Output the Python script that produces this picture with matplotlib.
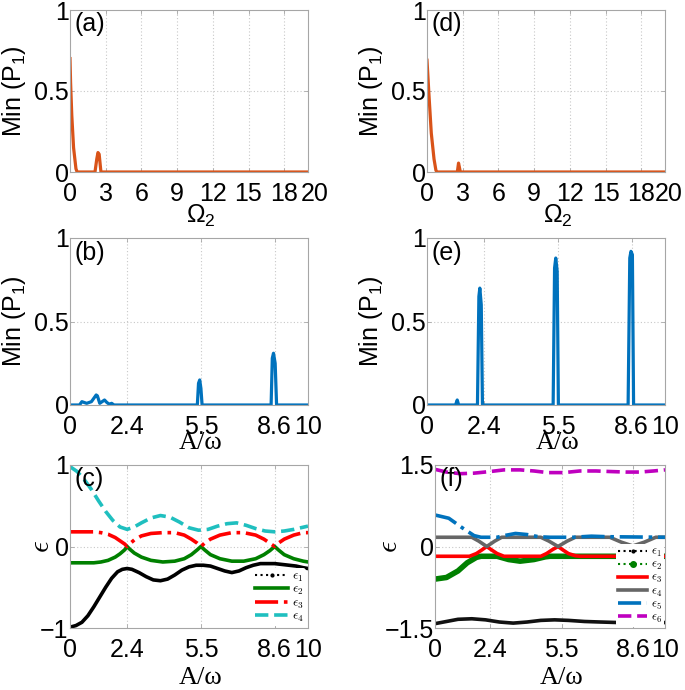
import matplotlib
matplotlib.use('Agg')
import matplotlib.pyplot as plt
from matplotlib.lines import Line2D
from matplotlib.font_manager import FontProperties
from matplotlib.transforms import ScaledTranslation

plt.rcParams['font.family'] = ['Liberation Sans', 'DejaVu Sans']
plt.rcParams['mathtext.fontset'] = 'custom'
plt.rcParams['mathtext.rm'] = 'Liberation Sans'
plt.rcParams['mathtext.it'] = 'Liberation Sans:italic'
plt.rcParams['mathtext.bf'] = 'Liberation Sans:bold'

# ---------------- data ----------------
# (a)
omega_a = [0, 0.05, 0.15, 0.3, 0.5, 0.6, 2.1, 2.25, 2.35, 2.45, 2.6, 20]
p_a = [0.70, 0.55, 0.35, 0.15, 0.02, 0.0, 0.0, 0.08, 0.12, 0.11, 0.0, 0.0]
# (d)
omega_d = [0, 0.17, 0.36, 0.59, 0.75, 0.85, 2.55, 2.65, 2.72, 2.8, 20]
p_d = [0.69, 0.47, 0.24, 0.08, 0.01, 0.0, 0.0, 0.055, 0.03, 0.0, 0.0]
# (b)
A_b = [0, 0.4, 0.5, 0.6, 0.7, 0.9, 1.0, 1.1, 1.15, 1.25, 1.35, 1.45, 1.55, 1.65,
       1.75, 1.85, 5.35, 5.4, 5.45, 5.5, 5.55, 8.45, 8.5, 8.55, 8.62, 8.68, 10]
p_b = [0, 0, 0.02, 0.015, 0.01, 0.02, 0.04, 0.06, 0.055, 0.01, 0.02, 0.03, 0.015, 0.005,
       0.01, 0, 0, 0.13, 0.15, 0.1, 0, 0, 0.28, 0.31, 0.25, 0, 0]
# (e)
A_e = [0, 1.2, 1.27, 1.33, 2.12, 2.18, 2.22, 2.28, 2.33, 5.3, 5.36, 5.41, 5.47, 5.52,
       8.45, 8.52, 8.57, 8.63, 8.68, 10]
p_e = [0, 0, 0.03, 0, 0, 0.65, 0.70, 0.6, 0, 0, 0.82, 0.88, 0.8, 0,
       0, 0.88, 0.92, 0.9, 0, 0]
# (c)
A_c1 = [0, 0.25, 0.5, 0.75, 1.0, 1.25, 1.5, 1.75, 2.0, 2.2, 2.4, 2.6, 2.9, 3.2, 3.5,
        3.8, 4.1, 4.4, 4.7, 5.0, 5.3, 5.6, 5.9, 6.2, 6.5, 6.8, 7.1, 7.4, 7.7, 8.0,
        8.3, 8.6, 8.9, 9.2, 9.5, 9.8, 10]
eps1_c = [-0.99, -0.97, -0.93, -0.85, -0.74, -0.62, -0.50, -0.39, -0.31, -0.28,
          -0.27, -0.28, -0.32, -0.37, -0.41, -0.42, -0.40, -0.35, -0.29, -0.25,
          -0.23, -0.23, -0.24, -0.27, -0.30, -0.32, -0.30, -0.26, -0.23, -0.21,
          -0.21, -0.21, -0.22, -0.23, -0.24, -0.26, -0.27]
A_c23 = [0, 0.5, 1.0, 1.3, 1.6, 1.9, 2.1, 2.3, 2.4, 2.5, 2.7, 3.0, 3.4, 3.9, 4.4,
         4.8, 5.1, 5.35, 5.5, 5.65, 5.9, 6.3, 6.8, 7.3, 7.8, 8.15, 8.4, 8.6, 8.75,
         9.0, 9.4, 9.8, 10]
eps2_c = [-0.20, -0.20, -0.20, -0.19, -0.17, -0.13, -0.09, -0.04, 0.0, -0.03,
          -0.08, -0.13, -0.17, -0.19, -0.18, -0.15, -0.10, -0.04, 0.0, -0.04,
          -0.10, -0.15, -0.18, -0.18, -0.15, -0.10, -0.05, 0.0, -0.04, -0.10,
          -0.15, -0.18, -0.19]
eps3_c = [0.18, 0.18, 0.18, 0.17, 0.15, 0.11, 0.07, 0.03, 0.0, 0.03,
          0.08, 0.13, 0.16, 0.17, 0.17, 0.14, 0.09, 0.04, 0.0, 0.04,
          0.09, 0.14, 0.17, 0.17, 0.14, 0.09, 0.04, 0.0, 0.04, 0.09,
          0.14, 0.17, 0.17]
A_c4 = [0, 0.3, 0.6, 0.9, 1.2, 1.5, 1.8, 2.1, 2.4, 2.7, 3.0, 3.4, 3.8, 4.2, 4.6,
        5.0, 5.4, 5.8, 6.2, 6.6, 7.0, 7.4, 7.8, 8.2, 8.6, 9.0, 9.4, 9.7, 10]
eps4_c = [0.98, 0.92, 0.82, 0.70, 0.56, 0.43, 0.32, 0.24, 0.21, 0.24, 0.29, 0.35,
          0.38, 0.36, 0.30, 0.23, 0.20, 0.21, 0.25, 0.28, 0.29, 0.26, 0.22, 0.19,
          0.18, 0.19, 0.21, 0.23, 0.25]
# (f)
A_f1 = [0, 0.5, 1.0, 1.6, 2.2, 2.8, 3.4, 4.0, 4.6, 5.2, 5.8, 6.5, 7.2, 8.0, 9.0, 10]
eps1_f = [-1.42, -1.38, -1.34, -1.33, -1.35, -1.39, -1.41, -1.39, -1.36, -1.35,
          -1.36, -1.38, -1.39, -1.40, -1.39, -1.40]
A_f2 = [0, 0.5, 1.0, 1.4, 1.8, 2.0, 2.7, 3.2, 3.7, 4.3, 4.8, 5.0, 10]
eps2_f = [-0.60, -0.57, -0.45, -0.30, -0.20, -0.18, -0.18, -0.24, -0.27, -0.24,
          -0.19, -0.18, -0.18]
A_f3 = [0, 1.5, 1.8, 2.05, 2.25, 2.45, 2.7, 3.0, 4.6, 4.85, 5.1, 5.35, 5.55, 5.8,
        6.1, 6.3, 10]
eps3_f = [-0.18, -0.18, -0.13, -0.06, 0.0, -0.06, -0.13, -0.18, -0.18, -0.13,
          -0.06, 0.0, -0.06, -0.13, -0.17, -0.18, -0.18]
A_f4 = [0, 1.6, 1.9, 2.25, 2.6, 2.9, 4.6, 4.95, 5.35, 5.75, 6.1, 7.6, 8.1, 8.6,
        9.1, 9.6, 10]
eps4_f = [0.17, 0.17, 0.10, 0.0, 0.10, 0.17, 0.17, 0.10, 0.0, 0.10, 0.17, 0.17,
          0.08, 0.01, 0.08, 0.17, 0.17]
A_f5 = [0, 0.6, 1.2, 1.7, 2.0, 2.7, 3.0, 3.5, 4.0, 4.5, 5.0, 6.0, 6.8, 7.5, 10]
eps5_f = [0.58, 0.52, 0.34, 0.20, 0.17, 0.17, 0.20, 0.24, 0.22, 0.18, 0.17, 0.17,
          0.19, 0.18, 0.17]
A_f6 = [0, 0.5, 1.1, 1.7, 2.4, 3.0, 3.7, 4.3, 4.9, 5.6, 6.3, 7.0, 7.6, 8.3, 8.9,
        9.5, 10]
eps6_f = [1.42, 1.37, 1.34, 1.35, 1.38, 1.41, 1.41, 1.39, 1.36, 1.36, 1.39, 1.39,
          1.38, 1.37, 1.37, 1.39, 1.41]

xt_A = [0, 2.4, 5.5, 8.6, 10]
xt_A_labels = ['0', '2.4', '5.5', '8.6', '10']
xt_O = [0, 3, 6, 9, 12, 15, 18, 20]
xt_O_labels = ['0', '3', '6', '9', '12', '15', '18', '20']

ORANGE = '#D95319'
BLUE = '#0072BD'
FS = 18
SPINE = '#a6a6a6'

fig = plt.figure(figsize=(6.85, 6.9), dpi=100)
W, H = 685.0, 690.0


def make_ax(l, t, r, b):
    return fig.add_axes([l / W, (H - b) / H, (r - l) / W, (b - t) / H])


def style(ax, xlim, xt, xtl, ylim, yt, ytl, grid_y):
    ax.set_xlim(*xlim)
    ax.set_ylim(*ylim)
    ax.set_xticks(xt)
    ax.set_xticklabels(xtl)
    ax.set_yticks(yt)
    ax.set_yticklabels(ytl)
    ax.set_axisbelow(True)
    for s in ax.spines.values():
        s.set_color(SPINE)
        s.set_linewidth(0.8)
    ax.tick_params(direction='in', length=3, width=0.6, color=SPINE,
                   labelsize=FS, top=True, right=True)
    ax.tick_params(axis='x', pad=7)
    ax.tick_params(axis='y', pad=1)
    for x in xt[1:-1]:
        ax.axvline(x, color='#c8c8c8', ls=(0, (1, 2)), lw=0.8, zorder=0)
    for y in grid_y:
        ax.axhline(y, color='#c8c8c8', ls=(0, (1, 2)), lw=0.8, zorder=0)


def shift_last_xlabel(ax, px):
    lab = ax.get_xticklabels()[-1]
    lab.set_transform(lab.get_transform() + ScaledTranslation(px / 100.0, 0, fig.dpi_scale_trans))


def panel_label(ax, s):
    ax.text(0.02, 0.985, s, transform=ax.transAxes, ha='left', va='top', fontsize=FS)


def min_label(ax, xc):
    ax.set_ylabel(r'Min (P$_1$)', fontsize=FS)
    ax.yaxis.set_label_coords(xc, 0.5)


def eps_label(ax, xc):
    ax.set_ylabel(r'$\epsilon$', fontsize=FS + 3, math_fontfamily='cm')
    ax.yaxis.set_label_coords(xc, 0.5)


def x_label(ax, s, yc, serif):
    if serif:
        ax.set_xlabel(s, family='Liberation Serif', fontsize=FS + 1)
    else:
        ax.set_xlabel(s, fontsize=FS)
    ax.xaxis.set_label_coords(0.55, yc)


# (a)
ax_a = make_ax(70, 10, 308, 172)
ax_a.plot(omega_a, p_a, color=ORANGE, lw=2.3)
style(ax_a, (0, 20), xt_O, xt_O_labels, (0, 1), [0, 0.5, 1], ['0', '0.5', '1'], [0.5])
shift_last_xlabel(ax_a, 7)
x_label(ax_a, r'$\Omega_2$', -0.19, False)
min_label(ax_a, -0.175)
panel_label(ax_a, '(a)')

# (d)
ax_d = make_ax(427, 10, 665, 172)
ax_d.plot(omega_d, p_d, color=ORANGE, lw=2.3)
style(ax_d, (0, 20), xt_O, xt_O_labels, (0, 1), [0, 0.5, 1], ['0', '0.5', '1'], [0.5])
shift_last_xlabel(ax_d, 4)
x_label(ax_d, r'$\Omega_2$', -0.19, False)
min_label(ax_d, -0.175)
panel_label(ax_d, '(d)')

# (b)
ax_b = make_ax(70, 238, 308, 405)
ax_b.plot(A_b, p_b, color=BLUE, lw=2.3)
style(ax_b, (0, 10), xt_A, xt_A_labels, (0, 1), [0, 0.5, 1], ['0', '0.5', '1'], [0.5])
x_label(ax_b, 'A/ω', -0.16, True)
min_label(ax_b, -0.175)
panel_label(ax_b, '(b)')

# (e)
ax_e = make_ax(427, 238, 665, 405)
ax_e.plot(A_e, p_e, color=BLUE, lw=2.3)
style(ax_e, (0, 10), xt_A, xt_A_labels, (0, 1), [0, 0.5, 1], ['0', '0.5', '1'], [0.5])
x_label(ax_e, 'A/ω', -0.16, True)
min_label(ax_e, -0.175)
panel_label(ax_e, '(e)')

# (c)
ax_c = make_ax(70, 465, 308, 628)
ax_c.plot(A_c1, eps1_c, color='black', lw=2.6)
ax_c.plot(A_c23, eps2_c, color='#008000', lw=2.6)
ax_c.plot(A_c23, eps3_c, color='#FF0000', lw=2.6, ls='-.')
ax_c.plot(A_c4, eps4_c, color='#1FBFBF', lw=2.6, ls='--')
style(ax_c, (0, 10), xt_A, xt_A_labels, (-1, 1), [-1, 0, 1], ['−1', '0', '1'], [0])
x_label(ax_c, 'A/ω', -0.24, True)
eps_label(ax_c, -0.065)
panel_label(ax_c, '(c)')
handles_c = [
    Line2D([], [], color='black', ls=':', lw=1.5, marker='.', ms=4),
    Line2D([], [], color='#008000', lw=2.6),
    Line2D([], [], color='#FF0000', lw=2.6, ls='-.'),
    Line2D([], [], color='#1FBFBF', lw=2.6, ls='--'),
]
leg_c = ax_c.legend(handles_c, [r'$\epsilon_1$', r'$\epsilon_2$', r'$\epsilon_3$', r'$\epsilon_4$'],
                    loc='lower right', bbox_to_anchor=(1.0, 0.0),
                    prop=FontProperties(size=9.5, math_fontfamily='cm'),
                    frameon=True, framealpha=1, facecolor='white', edgecolor='none',
                    handlelength=2.5, handletextpad=0.3, labelspacing=0.0,
                    borderpad=0.15, borderaxespad=0.15)

# (f)
ax_f = make_ax(435, 465, 665, 628)
ax_f.plot(A_f1, eps1_f, color='#111111', lw=2.6)
ax_f.plot(A_f2, eps2_f, color='#008000', lw=4.0)
ax_f.plot(A_f3, eps3_f, color='#FF0000', lw=2.6)
ax_f.plot(A_f4, eps4_f, color='#666666', lw=2.6)
ax_f.plot(A_f5, eps5_f, color=BLUE, lw=2.6, ls='-.')
ax_f.plot(A_f6, eps6_f, color='#BF00BF', lw=2.6, ls='--')
style(ax_f, (0, 10), xt_A, xt_A_labels, (-1.5, 1.5), [-1.5, 0, 1.5], ['−1.5', '0', '1.5'], [0])
x_label(ax_f, 'A/ω', -0.24, True)
eps_label(ax_f, -0.14)
panel_label(ax_f, '(f)')
handles_f = [
    Line2D([], [], color='black', ls=':', lw=1.5, marker='.', ms=4),
    Line2D([], [], color='#008000', ls=':', lw=1.5, marker='o', ms=4),
    Line2D([], [], color='#FF0000', lw=2.6),
    Line2D([], [], color='#666666', lw=2.6),
    Line2D([], [], color=BLUE, lw=2.6, ls='-.'),
    Line2D([], [], color='#BF00BF', lw=2.6, ls='--'),
]
leg_f = ax_f.legend(handles_f, [r'$\epsilon_%d$' % i for i in range(1, 7)],
                    loc='lower right', bbox_to_anchor=(1.0, 0.0),
                    prop=FontProperties(size=9, math_fontfamily='cm'),
                    frameon=True, framealpha=1, facecolor='white', edgecolor='none',
                    handlelength=2.3, handletextpad=0.3, labelspacing=0.0,
                    borderpad=0.15, borderaxespad=0.1)

fig.savefig('out.png', dpi=100)
